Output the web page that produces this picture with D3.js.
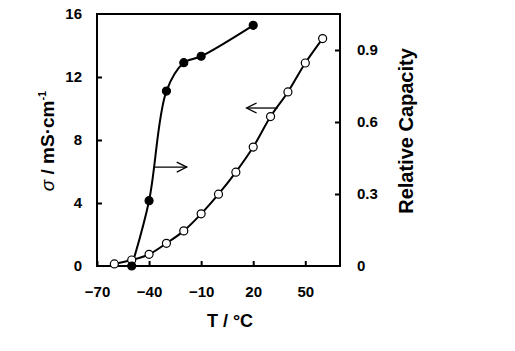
<!DOCTYPE html>
<html><head><meta charset="utf-8">
<script src="https://cdn.jsdelivr.net/npm/d3@7"></script>
<style>body{margin:0;background:#fff}</style>
</head><body>
<svg id="c" width="515" height="351"></svg>
<script>
// ---- data ----
const tempsCap = [-50, -40, -30, -20, -10, 20];
const capValues = [0, 0.272, 0.729, 0.847, 0.874, 1.003];
const tempsCond = [-60, -50, -40, -30, -20, -10, 0, 10, 20, 30, 40, 50, 60];
const condValues = [0.13, 0.38, 0.74, 1.44, 2.23, 3.31, 4.56, 5.96, 7.55, 9.49, 11.05, 12.89, 14.44];
const xTicks = [-70, -40, -10, 20, 50];
const yLeftTicks = [0, 4, 8, 12, 16];
const yRightTicks = [0, 0.3, 0.6, 0.9];
// annotation arrows (data units: T, sigma)
const arrowToLeft = [[34.1, 10.03], [16.2, 10.03]];
const arrowToRight = [[-36.6, 6.28], [-18.3, 6.28]];

const svg = d3.select("#c");
const L = 97, R = 340, T = 14, B = 266;
const x = d3.scaleLinear().domain([-70, 70]).range([L, R]);
const yL = d3.scaleLinear().domain([0, 16]).range([B, T]);
const yR = d3.scaleLinear().domain([0, 1.05]).range([B, T]);
const font = "'Liberation Sans', Arial, Helvetica, sans-serif";

// axes
const gx = svg.append("g").attr("transform", `translate(0,${B})`)
  .call(d3.axisBottom(x).tickValues(xTicks).tickSize(-5).tickPadding(20).tickFormat(d3.format("d")));
const gl = svg.append("g").attr("transform", `translate(${L},0)`)
  .call(d3.axisLeft(yL).tickValues(yLeftTicks).tickSize(-5).tickPadding(15).tickFormat(d3.format("d")));
const gr = svg.append("g").attr("transform", `translate(${R},0)`)
  .call(d3.axisRight(yR).tickValues(yRightTicks).tickSize(-5).tickPadding(17)
    .tickFormat(d => d === 0 ? "0" : d3.format(".1f")(d)));
[gx, gl, gr].forEach(g => {
  g.select(".domain").remove();
  g.selectAll(".tick line").attr("stroke", "#000").attr("stroke-width", 2);
  g.selectAll(".tick text").attr("font-family", font).attr("font-weight", "bold")
    .attr("font-size", 15).attr("fill", "#000");
});
gl.selectAll(".tick").filter(d => d === 0 || d === 16).select("line").remove();
gr.selectAll(".tick").filter(d => d === 0).select("line").remove();

// frame
svg.append("rect").attr("x", L).attr("y", T).attr("width", R - L).attr("height", B - T)
  .attr("fill", "none").attr("stroke", "#000").attr("stroke-width", 2);

// lines
const capData = tempsCap.map((t, i) => [t, capValues[i]]);
const condData = tempsCond.map((t, i) => [t, condValues[i]]);
const lineCap = d3.line().x(d => x(d[0])).y(d => yR(d[1])).curve(d3.curveCatmullRom.alpha(0.5));
const lineCond = d3.line().x(d => x(d[0])).y(d => yL(d[1])).curve(d3.curveCatmullRom.alpha(0.5));
svg.append("path").attr("d", lineCond(condData)).attr("fill", "none").attr("stroke", "#000").attr("stroke-width", 2);
svg.append("path").attr("d", lineCap(capData)).attr("fill", "none").attr("stroke", "#000").attr("stroke-width", 2);

// markers
svg.append("g").selectAll("circle").data(condData).join("circle")
  .attr("cx", d => x(d[0])).attr("cy", d => yL(d[1])).attr("r", 4)
  .attr("fill", "#fff").attr("stroke", "#000").attr("stroke-width", 1.2);
svg.append("g").selectAll("circle").data(capData).join("circle")
  .attr("cx", d => x(d[0])).attr("cy", d => yR(d[1])).attr("r", 4)
  .attr("fill", "#000").attr("stroke", "#000").attr("stroke-width", 1.2);

// arrows
function arrow(pts, dir) {
  const x0 = x(pts[0][0]), y0 = yL(pts[0][1]), x1 = x(pts[1][0]), y1 = yL(pts[1][1]);
  const g = svg.append("g").attr("fill", "none").attr("stroke", "#000").attr("stroke-width", 1.3);
  g.append("line").attr("x1", x0).attr("y1", y0).attr("x2", x1).attr("y2", y1);
  g.append("path").attr("d", `M${x1 - dir * 10},${y1 - 5}L${x1},${y1}L${x1 - dir * 10},${y1 + 5}`);
}
arrow(arrowToLeft, -1);
arrow(arrowToRight, 1);

// axis titles
svg.append("text").attr("x", 230).attr("y", 327).attr("text-anchor", "middle")
  .attr("font-family", font).attr("font-weight", "bold").attr("font-size", 18).text("T / °C");

const tl = svg.append("text").attr("transform", "translate(54,141) rotate(-90)").attr("text-anchor", "middle")
  .attr("font-family", font).attr("font-weight", "bold").attr("font-size", 19);
tl.append("tspan").attr("font-style", "italic").attr("font-weight", "normal").text("σ");
tl.append("tspan").text(" / mS·cm");
tl.append("tspan").attr("font-size", 11).attr("dy", -8).text("-1");

svg.append("text").attr("transform", "translate(413,131) rotate(-90)").attr("text-anchor", "middle")
  .attr("font-family", font).attr("font-weight", "bold").attr("font-size", 20).text("Relative Capacity");
</script>
</body></html>
